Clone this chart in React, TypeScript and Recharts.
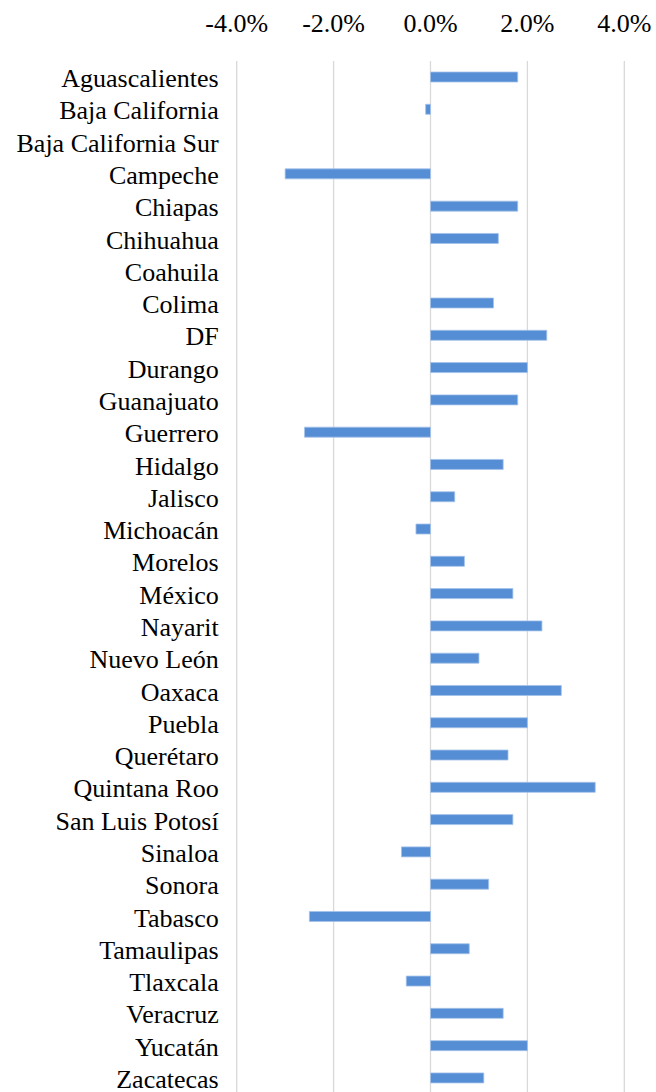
import React from 'react';
import { BarChart, Bar, XAxis, YAxis, CartesianGrid } from 'recharts';

const states = [
  'Aguascalientes', 'Baja California', 'Baja California Sur', 'Campeche', 'Chiapas',
  'Chihuahua', 'Coahuila', 'Colima', 'DF', 'Durango', 'Guanajuato', 'Guerrero',
  'Hidalgo', 'Jalisco', 'Michoacán', 'Morelos', 'México', 'Nayarit', 'Nuevo León',
  'Oaxaca', 'Puebla', 'Querétaro', 'Quintana Roo', 'San Luis Potosí', 'Sinaloa',
  'Sonora', 'Tabasco', 'Tamaulipas', 'Tlaxcala', 'Veracruz', 'Yucatán', 'Zacatecas',
];

const growth = [
  1.8, -0.1, 0, -3.0, 1.8,
  1.4, 0, 1.3, 2.4, 2.0, 1.8, -2.6,
  1.5, 0.5, -0.3, 0.7, 1.7, 2.3, 1.0,
  2.7, 2.0, 1.6, 3.4, 1.7, -0.6,
  1.2, -2.5, 0.8, -0.5, 1.5, 2.0, 1.1,
];

const xTicks = [-4, -2, 0, 2, 4];

const data = states.map((name, i) => ({ name, value: growth[i] }));

function YTick(props: any) {
  const { x, y, payload } = props;
  return (
    <text x={x} y={y} dy={10} textAnchor="end" fill="#000"
      fontFamily="Liberation Serif" fontSize={26}>
      {payload.value}
    </text>
  );
}

function XTick(props: any) {
  const { x, y, payload } = props;
  return (
    <text x={x} y={y} textAnchor="middle" fill="#000"
      fontFamily="Liberation Serif" fontSize={26}>
      {`${Number(payload.value).toFixed(1)}%`}
    </text>
  );
}

export default function App() {
  return (
    <div style={{ position: 'absolute', left: 0, top: 0, width: 656, height: 1092, overflow: 'hidden', background: '#fff' }}>
      <BarChart
        width={656}
        height={1100}
        data={data}
        layout="vertical"
        margin={{ top: 0, right: 31.7, left: 0, bottom: 5.8 }}
        barCategoryGap={0}
      >
        <CartesianGrid horizontal={false} stroke="#d9d9d9" strokeWidth={1.3} />
        <XAxis
          type="number"
          orientation="top"
          domain={[-4, 4]}
          ticks={xTicks}
          height={61}
          axisLine={false}
          tickLine={false}
          tickSize={0}
          tickMargin={29}
          tick={XTick}
          interval={0}
        />
        <YAxis
          type="category"
          dataKey="name"
          width={236.7}
          axisLine={false}
          tickLine={false}
          tickSize={0}
          tickMargin={18}
          tick={YTick}
          interval={0}
        />
        <Bar dataKey="value" fill="#558ed5" stroke="#a5c2ea" strokeWidth={0.8} barSize={10} isAnimationActive={false} />
      </BarChart>
    </div>
  );
}
